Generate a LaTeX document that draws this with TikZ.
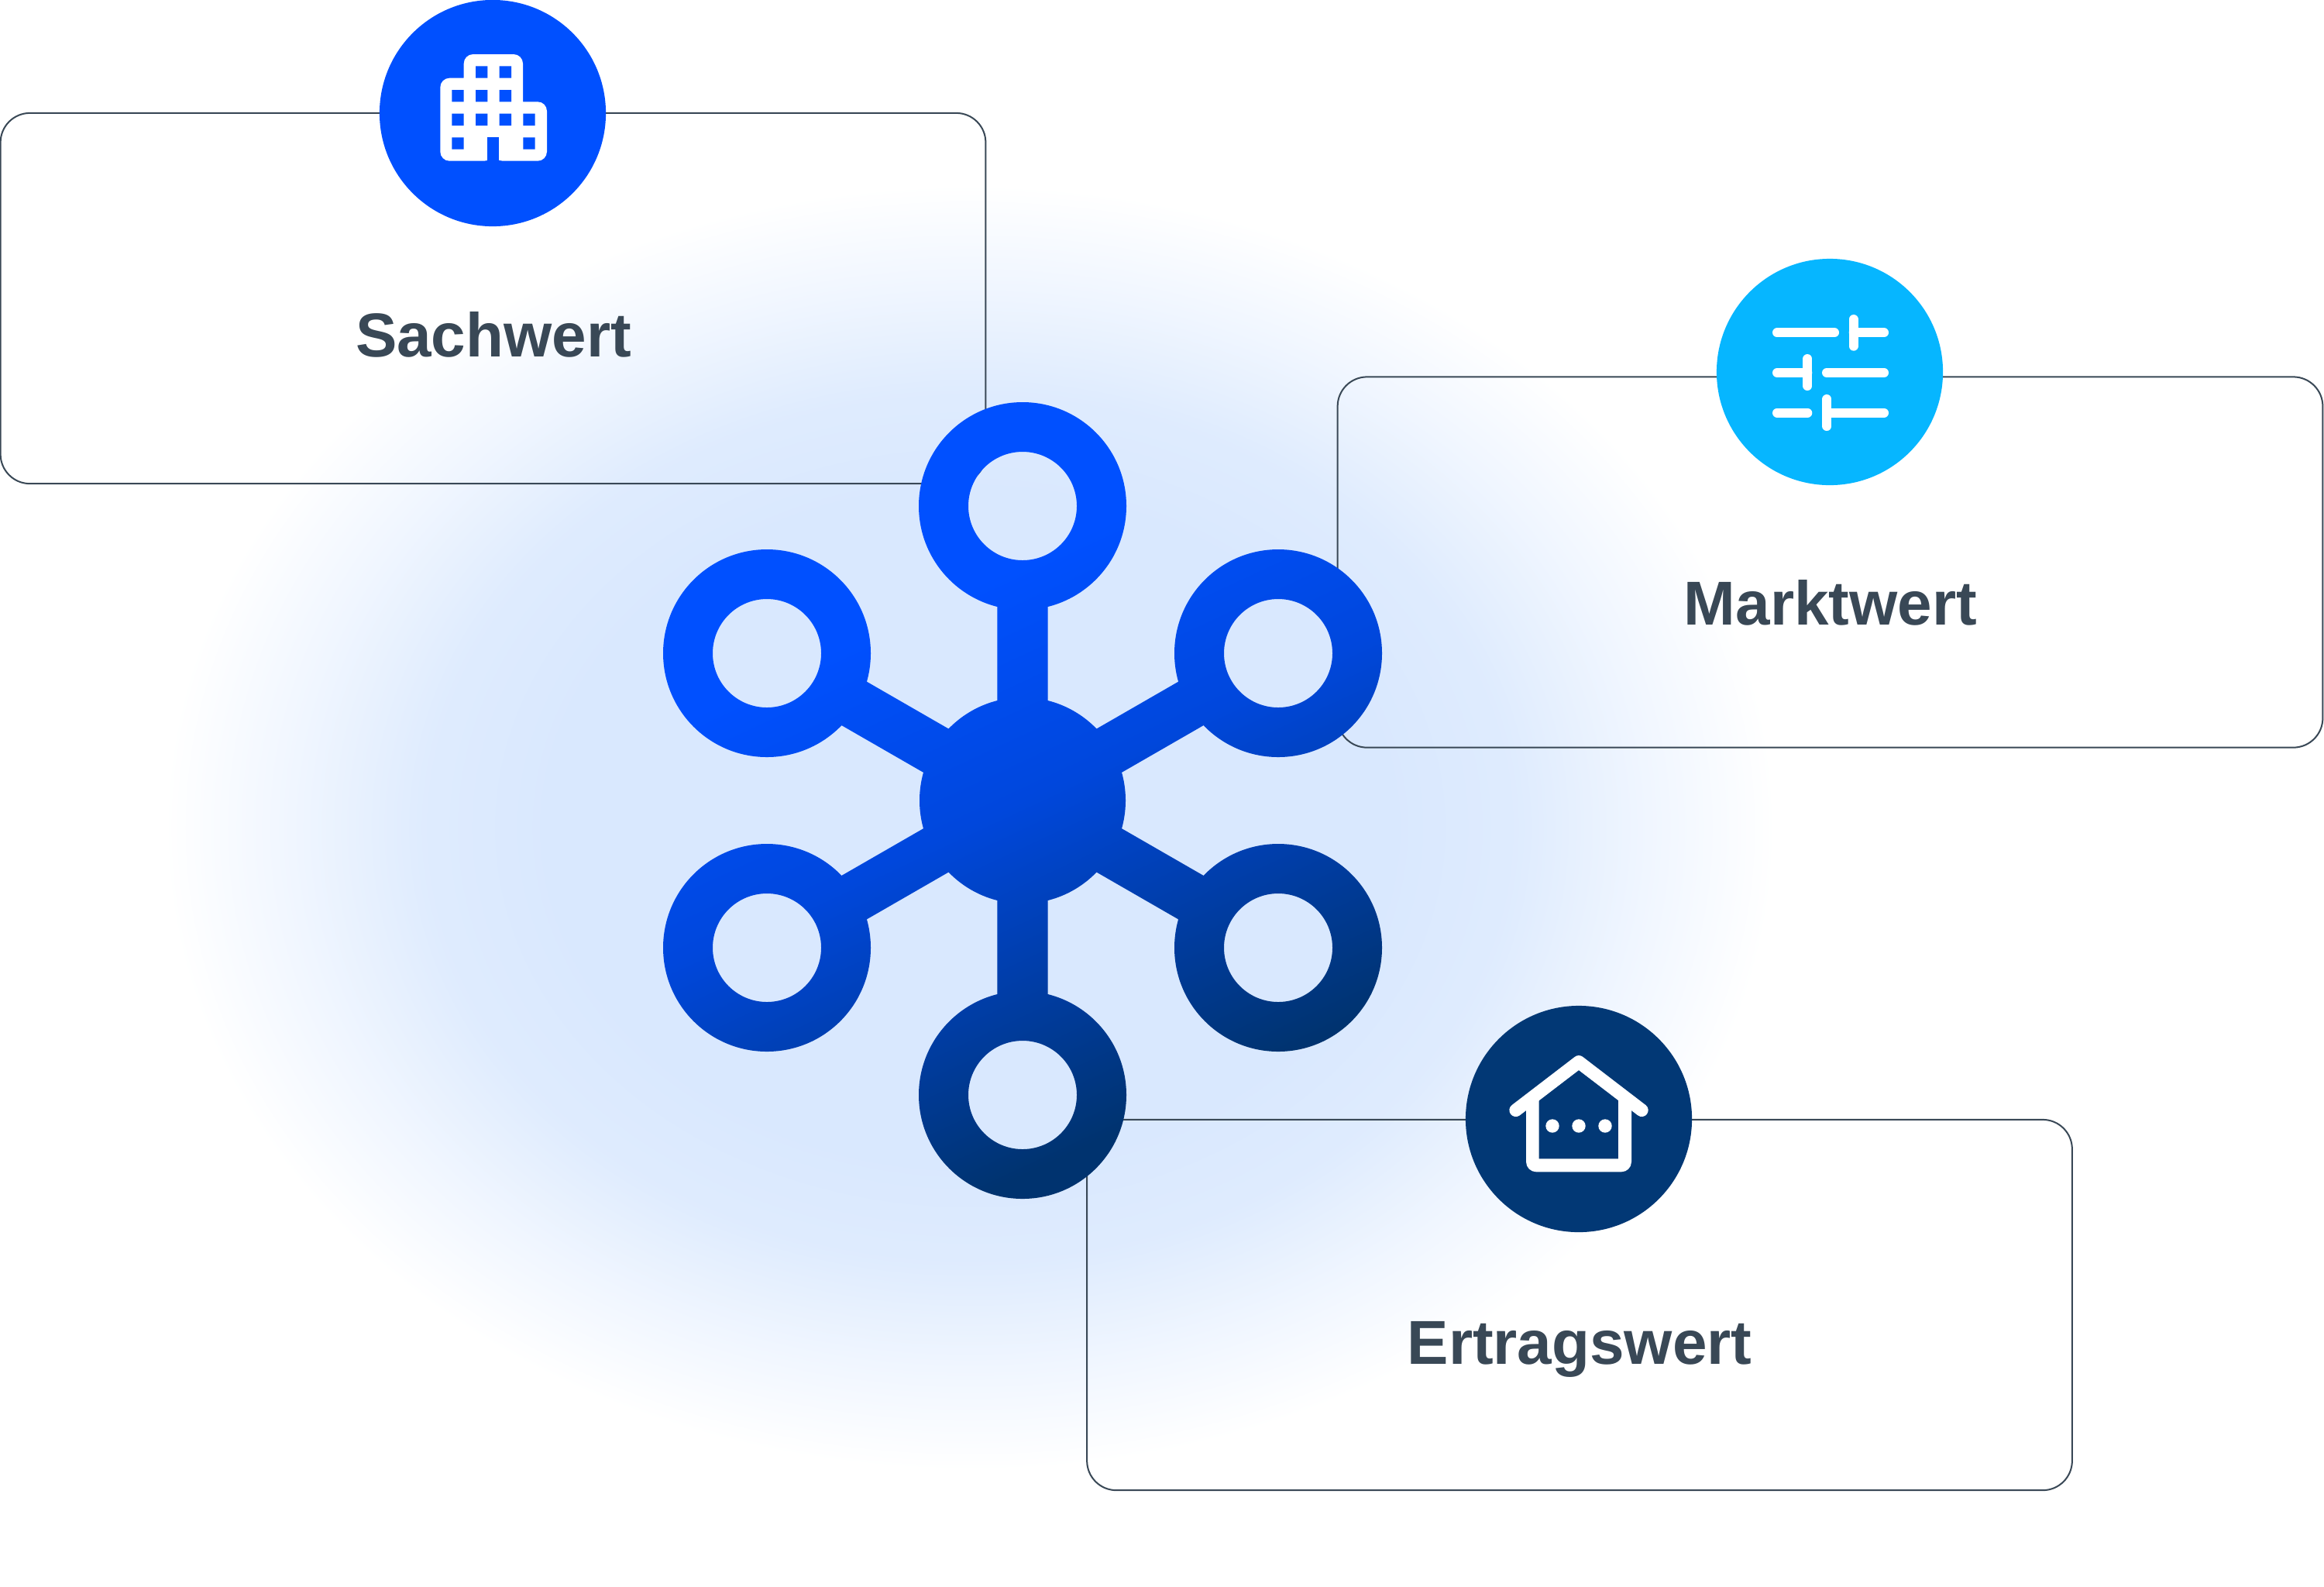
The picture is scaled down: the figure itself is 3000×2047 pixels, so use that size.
\documentclass[tikz,border=0pt]{standalone}
\usepackage{fontspec}
\setmainfont{Liberation Sans}
\usetikzlibrary{calc}
\definecolor{netblue}{HTML}{0050FF}
\definecolor{netmid}{HTML}{0047DC}
\definecolor{netnavy}{HTML}{00336F}
\definecolor{skyblue}{HTML}{06B6FF}
\definecolor{deepblue}{HTML}{023875}
\definecolor{glowblue}{HTML}{D9E8FE}
\definecolor{slate}{HTML}{394856}
\pgfdeclareradialshading{glow}{\pgfpoint{0bp}{0bp}}{color(0bp)=(glowblue); color(13bp)=(glowblue); color(17bp)=(glowblue!85!white); color(21bp)=(glowblue!40!white); color(25bp)=(white); color(50bp)=(white)}
\pgfdeclarehorizontalshading{netgrad}{100bp}{color(0bp)=(netblue); color(36bp)=(netblue); color(50bp)=(netmid); color(72bp)=(netnavy); color(100bp)=(netnavy)}
\tikzset{
  card/.style={draw=slate, line width=0.02cm, rectangle, rounded corners=0.38cm, minimum width=12.71cm, minimum height=4.78cm, inner sep=0pt, outer sep=0pt},
  disc/.style={circle, minimum size=2.92cm, inner sep=0pt, outer sep=0pt},
  title/.style={anchor=base, text=slate, font=\fontsize{22.76}{27}\selectfont\bfseries},
  ringpath/.style={insert path={(#1) circle [radius=134] (#1) ellipse [x radius=70, y radius=-70]}},
  spokepath/.style 2 args={insert path={($(#1)!0.325cm!90:(#2)$) -- ($(#2)!1.07cm!-17.7:(#1)$) -- ($(#2)!1.07cm!17.7:(#1)$) -- ($(#1)!0.325cm!-90:(#2)$) -- cycle}},
  iconline/.style={draw=white, line width=0.12cm, line cap=round},
  houseline/.style={draw=white, line width=0.167cm, line cap=round, line join=round}
}
\begin{document}
\begin{tikzpicture}[x=0.01cm, y=-0.01cm]
  \useasboundingbox (0,0) rectangle (3000,2047);
  \fill[white] (0,0) rectangle (3000,2047);
  \shade[shading=glow] (1252,1068) ellipse [x radius=1040, y radius=830];

  \node[card] (cardS) at (636.5,385) {};
  \node[card] (cardM) at (2362.5,725.5) {};
  \node[card] (cardE) at (2039,1684) {};

  \node[disc, fill=netblue] (discS) at (636,146) {};
  \node[disc, fill=skyblue] (discM) at (2362,480) {};
  \node[disc, fill=deepblue] (discE) at (2038,1444) {};

  \node[title] (titleS) at (637,460) {Sachwert};
  \node[title] (titleM) at (2363,806) {Marktwert};
  \node[title] (titleE) at (2039,1760) {Ertragswert};

  \coordinate (hub) at (1320,1033);
  \coordinate (ringA) at (1320,653);
  \coordinate (ringB) at (1650,843);
  \coordinate (ringC) at (1650,1223);
  \coordinate (ringD) at (1320,1413);
  \coordinate (ringE) at (990,1223);
  \coordinate (ringF) at (990,843);

  \shade[shading=netgrad, shading angle=-65]
    (hub) circle [radius=133]
    [ringpath=ringA, ringpath=ringB, ringpath=ringC, ringpath=ringD, ringpath=ringE, ringpath=ringF]
    [spokepath={hub}{ringA}, spokepath={hub}{ringB}, spokepath={hub}{ringC}]
    [spokepath={hub}{ringD}, spokepath={hub}{ringE}, spokepath={hub}{ringF}];

  \fill[white] (637,207.7) [rounded corners=0.12cm] -- (568.3,207.7) -- (568.3,100.7) [sharp corners] -- (598.7,100.7) [rounded corners=0.12cm] -- (598.7,70) -- (675,70) [sharp corners] -- (675,131.3) [rounded corners=0.12cm] -- (706,131.3) -- (706,207.7) -- (637,207.7) -- cycle;
  \fill[netblue] (614,85.3) rectangle +(15.3,15.3) (644.7,85.3) rectangle +(15.3,15.3);
  \fill[netblue] (583.3,116) rectangle +(15.3,15.3) (614,116) rectangle +(15.3,15.3) (644.7,116) rectangle +(15.3,15.3);
  \fill[netblue] (583.3,146.7) rectangle +(15.3,15.3) (614,146.7) rectangle +(15.3,15.3) (644.7,146.7) rectangle +(15.3,15.3) (675.3,146.7) rectangle +(15.3,15.3);
  \fill[netblue] (583.3,177.3) rectangle +(15.3,15.3) (675.3,177.3) rectangle +(15.3,15.3);
  \fill[netblue] (629.3,177.3) rectangle (644.3,208);

  \draw[iconline] (2294,429.3) -- (2368,429.3);
  \draw[iconline] (2392.7,412) -- (2392.7,446.7) (2392.7,429.3) -- (2432,429.3);
  \draw[iconline] (2294,481) -- (2333.3,481) (2333.3,463) -- (2333.3,498);
  \draw[iconline] (2358,481) -- (2432,481);
  \draw[iconline] (2294,532.7) -- (2333.3,532.7);
  \draw[iconline] (2358.3,515) -- (2358.3,550) (2358.3,532.7) -- (2432,532.7);

  \fill[white, even odd rule] (1970,1425) [rounded corners=0.13cm] -- (1970,1512.3) -- (2106,1512.3) [sharp corners] -- (2106,1425) -- (2038,1373) -- cycle
    (1986.7,1419.3) -- (1986.7,1495.3) -- (2089,1495.3) -- (2089,1419.3) -- (2038,1380.7) -- cycle;
  \draw[houseline] (1956.7,1432.7) -- (2038,1370.4) -- (2119.3,1432.7);
  \fill[white] (2004,1453) circle [radius=8.7] (2038,1453) circle [radius=8.7] (2072,1453) circle [radius=8.7];
\end{tikzpicture}
\end{document}
